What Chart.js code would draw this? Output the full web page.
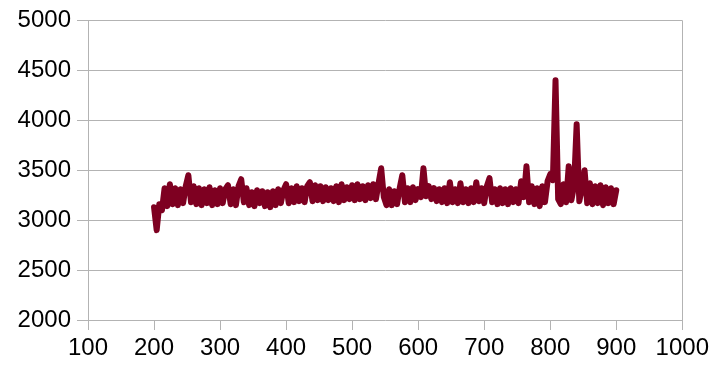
<!DOCTYPE html>
<html>
<head>
<meta charset="utf-8">
<script src="https://cdn.jsdelivr.net/npm/chart.js@4"></script>
<style>
html,body{margin:0;padding:0;background:#fff}
#wrap{width:713px;height:370px}
</style>
</head>
<body>
<div id="wrap"><canvas id="grafico" width="713" height="370"></canvas></div>
<script>

// x positions (every 4 units)
let xs=[200,204,208,212,216,220,224,228,232,236,240,244,248,252,256,260,264,268,272,276,280,284,288,292,296,
300,304,308,312,316,320,324,328,332,336,340,344,348,352,356,360,364,368,372,376,380,384,388,392,396,
400,404,408,412,416,420,424,428,432,436,440,444,448,452,456,460,464,468,472,476,480,484,488,492,496,
500,504,508,512,516,520,524,528,532,536,540,544,548,552,556,560,564,568,572,576,580,584,588,592,596,
600,604,608,612,616,620,624,628,632,636,640,644,648,652,656,660,664,668,672,676,680,684,688,692,696,
700,704,708,712,716,720,724,728,732,736,740,744,748,752,756,760,764,768,772,776,780,784,788,792,796,
800,804,808,812,816,820,824,828,832,836,840,844,848,852,856,860,864,868,872,876,880,884,888,892,896,900]

let valores=[3130,2900,3160,3100,3320,3140,3360,3160,3320,3150,3310,3170,3340,3450,3180,3340,3160,3320,3150,3310,3170,3330,3150,3300,3160,
3320,3170,3310,3350,3160,3310,3150,3340,3410,3180,3320,3150,3280,3140,3300,3170,3290,3140,3280,3130,3290,3150,3310,3170,3300,
3360,3170,3320,3180,3340,3190,3320,3180,3340,3380,3190,3350,3200,3340,3190,3330,3200,3320,3190,3340,3180,3360,3200,3330,3210,
3350,3200,3360,3210,3340,3200,3350,3220,3360,3210,3370,3520,3230,3150,3310,3150,3290,3160,3320,3450,3180,3320,3180,3330,3200,
3310,3230,3520,3240,3340,3210,3320,3190,3310,3180,3320,3170,3380,3180,3310,3170,3370,3180,3310,3170,3320,3180,3380,3190,3320,
3170,3340,3420,3180,3310,3160,3320,3170,3310,3160,3320,3180,3310,3170,3390,3230,3540,3180,3340,3160,3320,3140,3340,3180,3390,
3460,3400,4400,3210,3160,3360,3180,3540,3200,3340,3960,3190,3320,3500,3170,3370,3160,3340,3170,3350,3150,3330,3170,3320,3160,3300]

let xTicks=[100,200,300,400,500,600,700,800,900,1000]
let yTicks=[2000,2500,3000,3500,4000,4500,5000]

let cor="#7e0021"
let grade="#b3b3b3"
let fonte={family:"Liberation Sans, Arial, sans-serif",size:24}

let pontos=xs.map((x,i)=>({x:x,y:valores[i]}))

new Chart(document.getElementById("grafico"),{

type:"line",

data:{
datasets:[{
data:pontos,
borderColor:cor,
borderWidth:6,
pointRadius:0,
tension:0,
borderJoinStyle:"round",
borderCapStyle:"round"
}]
},

options:{
responsive:false,
animation:false,
layout:{padding:{top:20,right:27,bottom:0,left:0}},
plugins:{legend:{display:false},tooltip:{enabled:false}},
scales:{
x:{
type:"linear",
min:100,
max:1000,
afterBuildTicks:s=>{s.ticks=xTicks.map(v=>({value:v}))},
afterFit:s=>{s.height=50},
grid:{
color:c=>(c.tick&&(c.tick.value==1000))?grade:"rgba(0,0,0,0)",
tickColor:grade,
tickLength:10,
lineWidth:1
},
border:{display:false},
ticks:{color:"#000",font:fonte,padding:4,maxRotation:0,autoSkip:false,callback:v=>String(v)}
},
y:{
min:2000,
max:5000,
afterBuildTicks:s=>{s.ticks=yTicks.map(v=>({value:v}))},
afterFit:s=>{s.width=88},
grid:{color:grade,tickColor:grade,tickLength:11,lineWidth:1},
border:{display:true,color:grade},
ticks:{color:"#000",font:fonte,padding:6,callback:v=>String(v)}
}
}
}

})

</script>
</body>
</html>
